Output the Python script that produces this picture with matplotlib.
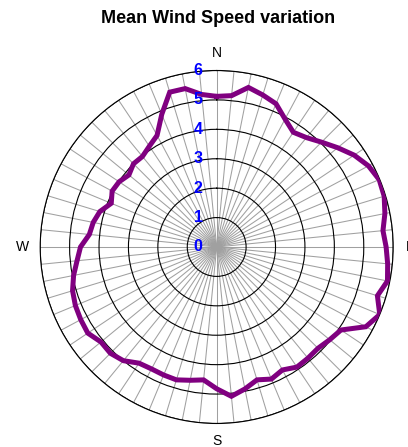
import numpy as np
import matplotlib
matplotlib.use("Agg")
import matplotlib.pyplot as plt
from matplotlib import transforms

plt.rcParams['font.family'] = ['Liberation Sans', 'DejaVu Sans']

# mean wind speed per direction bin (64 bins, clockwise from north)
n_bins = 64
direction_deg = np.arange(n_bins) * 360.0 / n_bins
mean_speed = [5.12, 5.17, 5.53, 5.40, 5.27, 4.93, 4.69, 4.81,
              5.04, 5.32, 5.62, 5.85, 5.98, 5.95, 5.83, 5.68,
              5.76, 5.84, 5.92, 5.71, 6.00, 5.75, 5.08, 4.97,
              4.87, 4.89, 4.91, 4.74, 4.86, 4.72, 4.92, 5.10,
              4.82, 4.54, 4.62, 4.72, 4.71, 4.70, 4.75, 5.00,
              5.11, 5.09, 5.27, 5.24, 5.20, 5.12, 4.96, 4.77,
              4.63, 4.35, 4.28, 4.15, 3.88, 4.03, 3.99, 3.86,
              4.00, 3.98, 4.12, 4.30, 4.88, 5.50, 5.49, 5.21]
radial_ticks = [0, 1, 2, 3, 4, 5, 6]
compass = ['N', 'E', 'S', 'W']
compass_deg = [0, 90, 180, 270]

fig = plt.figure(figsize=(4.08, 4.47), dpi=100)
ax = fig.add_axes([0.0985, 0.0526, 0.8652, 0.7897], projection='polar')
ax.set_theta_zero_location('N')
ax.set_theta_direction(-1)
ax.set_ylim(0, 6)

theta = np.deg2rad(direction_deg)

# grid: grey spokes at every bin, black rings at each radial tick
ax.set_xticks(theta)
ax.set_yticks(radial_ticks[1:])
ax.set_xticklabels([])
ax.set_yticklabels([])
ax.xaxis.grid(True, color='#a0a0a0', linewidth=0.75)
ax.yaxis.grid(True, color='black', linewidth=0.8)
ax.tick_params(length=0)
ax.spines['polar'].set_color('black')
ax.spines['polar'].set_linewidth(0.8)
ax.set_axisbelow(True)

# closed line
th_closed = np.append(theta, theta[0])
sp_closed = np.append(mean_speed, mean_speed[0])
ax.plot(th_closed, sp_closed, color='#800080', linewidth=3.6, zorder=5,
        solid_joinstyle='miter')

# radial labels in blue, just left of the north spoke
lab_tr = transforms.offset_copy(ax.transData, fig=fig, x=-18.5, y=0, units='dots')
for r in radial_ticks:
    ax.text(0, r, str(r), transform=lab_tr, color='blue', fontsize=11.5,
            fontweight='bold', ha='center', va='center', zorder=6)

# compass labels (E sits partly past the right edge, as in the original)
for lab, d in zip(compass, compass_deg):
    ax.text(np.deg2rad(d), 6.6, lab, ha='center', va='center', fontsize=10,
            clip_on=False)

fig.text(0.534, 1 - 18.3 / 447, 'Mean Wind Speed variation', ha='center',
         va='center', fontsize=13, fontweight='bold')

fig.savefig('out.png', dpi=100)
